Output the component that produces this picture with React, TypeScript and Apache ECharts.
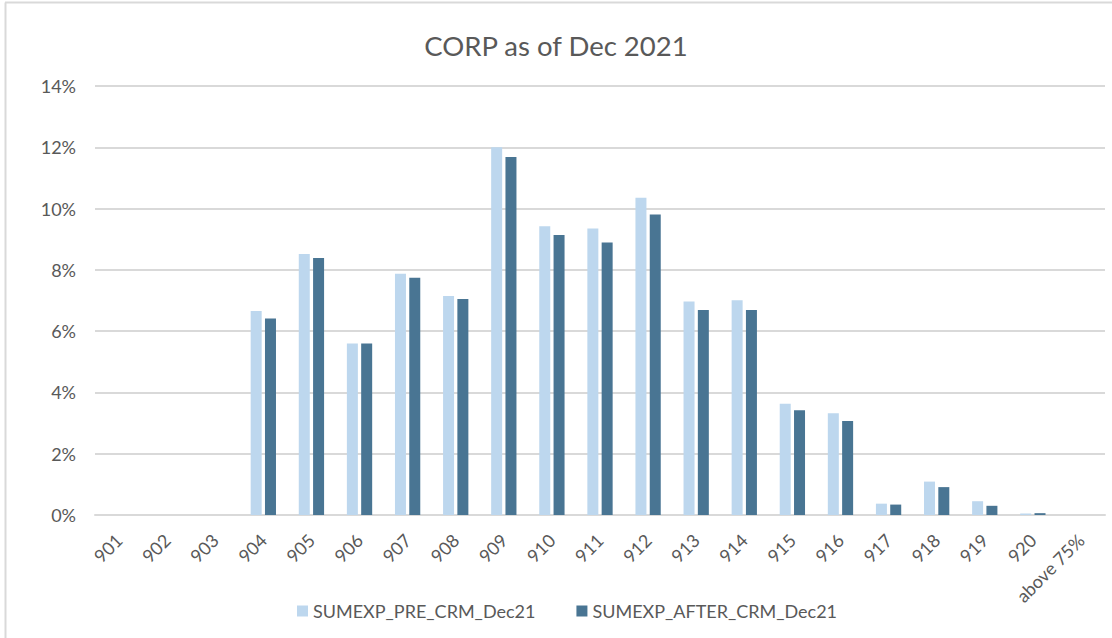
import React, { useEffect, useRef } from "react";
import * as echarts from "echarts";

const categories = ["901","902","903","904","905","906","907","908","909","910","911","912","913","914","915","916","917","918","919","920","above 75%"];
const preCrm = [0, 0, 0, 6.66, 8.52, 5.60, 7.87, 7.15, 12.0, 9.42, 9.35, 10.35, 6.97, 7.01, 3.63, 3.32, 0.37, 1.09, 0.45, 0.05, 0];
const afterCrm = [0, 0, 0, 6.41, 8.39, 5.60, 7.74, 7.05, 11.68, 9.14, 8.89, 9.81, 6.69, 6.69, 3.42, 3.07, 0.34, 0.91, 0.30, 0.06, 0];
const seriesNames = ["SUMEXP_PRE_CRM_Dec21", "SUMEXP_AFTER_CRM_Dec21"];
const titleText = "CORP as of Dec 2021";

const FONT = "Lato, 'Open Sans', sans-serif";
const TEXT = "#595959";

export default function App() {
  const ref = useRef<HTMLDivElement>(null);
  useEffect(() => {
    if (!ref.current) return;
    const chart = echarts.init(ref.current, null, { renderer: "svg" });
    chart.setOption({
      animation: false,
      backgroundColor: "#ffffff",
      textStyle: { fontFamily: FONT, color: TEXT },
      title: {
        text: titleText,
        left: "center",
        top: 26,
        textStyle: { fontFamily: FONT, fontSize: 27.5, fontWeight: "normal", color: TEXT },
      },
      graphic: [
        { type: "line", shape: { x1: 5.5, y1: 2.5, x2: 5.5, y2: 638 }, style: { stroke: "#d9d9d9", lineWidth: 2 } },
        { type: "line", shape: { x1: 5, y1: 2.5, x2: 1112, y2: 2.5 }, style: { stroke: "#d9d9d9", lineWidth: 2 } },
      ],
      legend: {
        data: seriesNames,
        top: 597,
        left: 292,
        itemWidth: 11,
        itemHeight: 11,
        itemGap: 41,
        icon: "rect",
        textStyle: { fontFamily: FONT, fontSize: 18, color: TEXT },
      },
      grid: { left: 95, right: 7, top: 86, bottom: 123, containLabel: false },
      xAxis: {
        type: "category",
        data: categories,
        axisLine: { lineStyle: { color: "#d9d9d9", width: 2 } },
        axisTick: { show: false },
        axisLabel: { rotate: 45, interval: 0, fontFamily: FONT, fontSize: 18, color: TEXT, margin: 22 },
      },
      yAxis: {
        type: "value",
        min: 0,
        max: 14,
        interval: 2,
        axisLine: { show: false },
        axisTick: { show: false },
        splitLine: { lineStyle: { color: "#d9d9d9", width: 2 } },
        axisLabel: { formatter: "{value}%", fontFamily: FONT, fontSize: 18, color: TEXT, margin: 19 },
      },
      series: [
        {
          name: seriesNames[0],
          type: "bar",
          data: preCrm,
          barWidth: 11,
          barGap: "30%",
          itemStyle: { color: "#BDD7EE" },
        },
        {
          name: seriesNames[1],
          type: "bar",
          data: afterCrm,
          barWidth: 11,
          barGap: "30%",
          itemStyle: { color: "#497593" },
        },
      ],
    });
    return () => chart.dispose();
  }, []);
  return <div ref={ref} style={{ position: "fixed", left: 0, top: 0, width: 1112, height: 638 }} />;
}
